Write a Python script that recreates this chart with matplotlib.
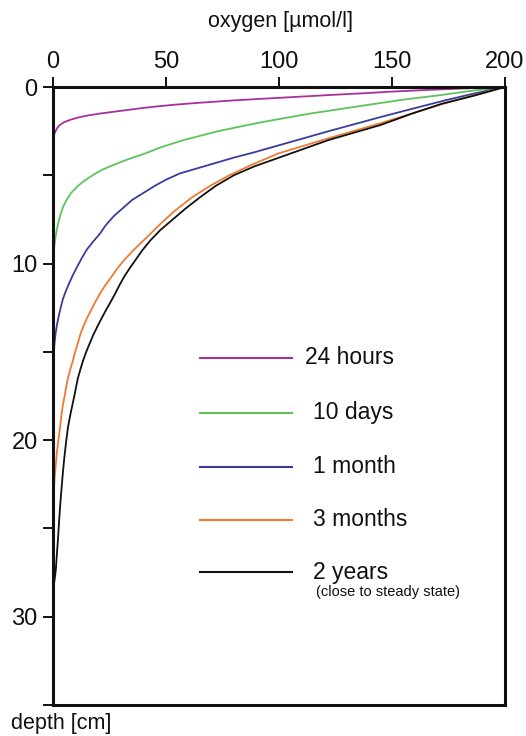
import matplotlib
matplotlib.use("Agg")
import matplotlib.pyplot as plt

plt.rcParams['font.family'] = ['Liberation Sans', 'DejaVu Sans']

# Oxygen profiles in the sediment (depth in cm, oxygen in umol/l)
labels = ["24 hours", "10 days", "1 month", "3 months", "2 years"]
colors = ["#a8309a", "#5cc45a", "#3a3c9c", "#f07a32", "#111111"]

depth_24h = [0, 0.08, 0.17, 0.26, 0.35, 0.45, 0.55, 0.65, 0.75, 0.9, 1.0, 1.1,
             1.2, 1.3, 1.4, 1.5, 1.6, 1.7, 1.85, 2.0, 2.15, 2.3, 2.5, 2.7, 2.9, 35]
oxy_24h = [200, 182, 165, 150, 138, 123, 109, 95, 81, 64, 54, 46,
           39, 33, 27, 21, 16, 12, 7.8, 4.8, 3.0, 2.0, 1.1, 0.5, 0, 0]

depth_10d = [0, 0.2, 0.45, 0.7, 1.0, 1.5, 2.0, 2.5, 3.0, 3.4, 3.8, 4.1, 4.4,
             4.7, 5.0, 5.3, 5.6, 6.0, 6.4, 6.8, 7.4, 8.0, 8.5, 9.0, 9.8, 35]
oxy_10d = [200, 186, 172, 156, 140, 114, 92, 73, 58, 48, 40, 33, 27,
           21.5, 17.5, 14, 11, 8, 6, 4.4, 2.9, 1.8, 1.1, 0.6, 0, 0]

depth_1m = [0, 0.35, 0.74, 1.2, 1.7, 2.5, 3.3, 3.7, 4.0, 4.45, 4.9, 5.25, 5.6,
            6.0, 6.4, 6.85, 7.3, 7.8, 8.3, 8.75, 9.2, 9.7, 10.2, 10.65, 11.1,
            11.55, 12.0, 12.5, 13.0, 13.5, 14.0, 14.6, 15.3, 16.5, 35]
oxy_1m = [200, 187, 174, 160, 145, 122, 100, 89, 80, 68, 56, 50, 45,
          40, 35, 31, 27, 23.5, 20.8, 17.8, 15, 12.7, 10.6, 8.8, 7.2,
          5.7, 4.4, 3.4, 2.5, 1.7, 1.1, 0.6, 0.3, 0, 0]

depth_3m = [0, 0.45, 0.9, 1.45, 2.05, 2.9, 3.75, 4.4, 5.0, 5.6, 6.25, 7.0, 7.7,
            8.2, 8.7, 9.25, 9.8, 10.3, 10.8, 11.25, 11.7, 12.15, 12.6, 13.1,
            13.6, 14.05, 14.5, 15.0, 15.5, 16.0, 16.5, 17.0, 17.4, 18.0, 18.6,
            19.3, 20.0, 20.6, 21.3, 22.0, 22.8, 23.6, 35]
oxy_3m = [200, 187, 174, 160, 145, 122, 100, 88, 78, 69.5, 61.5, 54, 48,
          44, 40, 35.5, 31.5, 28.3, 25.6, 23, 20.8, 18.8, 17, 15,
          13.3, 12, 11, 9.8, 8.8, 7.6, 6.6, 5.8, 5.3, 4.4, 3.7,
          3.1, 2.4, 1.8, 1.3, 0.8, 0.4, 0, 0]

depth_2y = [0, 0.5, 0.95, 1.5, 2.15, 3.0, 4.0, 4.5, 5.0, 5.6, 6.25, 6.9, 7.5,
            8.1, 8.7, 9.25, 9.8, 10.25, 10.7, 11.2, 11.7, 12.15, 12.6, 13.1,
            13.6, 14.05, 14.5, 15.0, 15.5, 16.0, 16.5, 17.0, 17.4, 18.0, 18.6,
            19.3, 20.1, 21.0, 21.8, 22.7, 23.5, 24.2, 25.0, 25.6, 26.5, 27.4,
            28.0, 28.4, 35]
oxy_2y = [200, 186, 172, 159, 145, 122, 100, 89, 80, 72, 65, 58.5, 53,
          47.5, 43, 39.5, 36.5, 34, 31.7, 29.5, 27.5, 25.6, 23.6, 21.5,
          19.5, 17.8, 16.3, 14.7, 13.3, 12.1, 11.0, 10.2, 9.6, 8.6, 7.6,
          6.6, 5.8, 5.0, 4.4, 3.8, 3.3, 2.9, 2.5, 2.2, 1.7, 1.2,
          0.6, 0, 0]

depths = [depth_24h, depth_10d, depth_1m, depth_3m, depth_2y]
oxygen = [oxy_24h, oxy_10d, oxy_1m, oxy_3m, oxy_2y]

x_ticks = [0, 50, 100, 150, 200]
y_ticks = [0, 5, 10, 15, 20, 25, 30, 35]
y_tick_labels = ["0", "", "10", "", "20", "", "30", ""]

fig = plt.figure(figsize=(5.26, 7.36), dpi=100)
ax = fig.add_axes([53 / 526, 1 - 705 / 736, 452 / 526, 618 / 736])

for d, o, c in zip(depths, oxygen, colors):
    ax.plot(o, d, color=c, lw=1.3, solid_joinstyle="round", solid_capstyle="round")

ax.set_xlim(0, 200)
ax.set_ylim(35, 0)

ax.xaxis.tick_top()
ax.xaxis.set_label_position("top")
ax.set_xticks(x_ticks)
ax.set_xticklabels([str(t) for t in x_ticks], fontsize=17)
ax.set_yticks(y_ticks)
ax.set_yticklabels(y_tick_labels, fontsize=17)
ax.tick_params(axis="both", direction="out", length=7, width=1.4, colors="#111111",
               pad=4)
ax.tick_params(axis="x", pad=3)

for s in ax.spines.values():
    s.set_linewidth(2.2)
    s.set_color("#111111")

fig.text(281 / 526, 1 - 22 / 736, "oxygen [µmol/l]", fontsize=15.5,
         ha="center", va="center", color="#111111")
fig.text(11 / 526, 1 - 723 / 736, "depth [cm]", fontsize=15.5,
         ha="left", va="center", color="#111111")

# Legend drawn as short line samples with their labels
leg_y_px = [358, 413, 467, 520, 572]
leg_text_x_px = [305, 313, 313, 313, 313]
for lab, c, ypx, txpx in zip(labels, colors, leg_y_px, leg_text_x_px):
    yf = 1 - (ypx - 87) / 618
    ax.plot([(200 - 53) / 452, (292 - 53) / 452], [yf, yf], color=c, lw=1.5,
            transform=ax.transAxes)
    ax.text((txpx - 53) / 452, yf, lab, transform=ax.transAxes, fontsize=16.5,
            ha="left", va="center", color="#111111")
ax.text((316 - 53) / 452, 1 - (592 - 87) / 618, "(close to steady state)",
        transform=ax.transAxes, fontsize=10.5, ha="left", va="center", color="#111111")

fig.savefig("out.png", dpi=100)
